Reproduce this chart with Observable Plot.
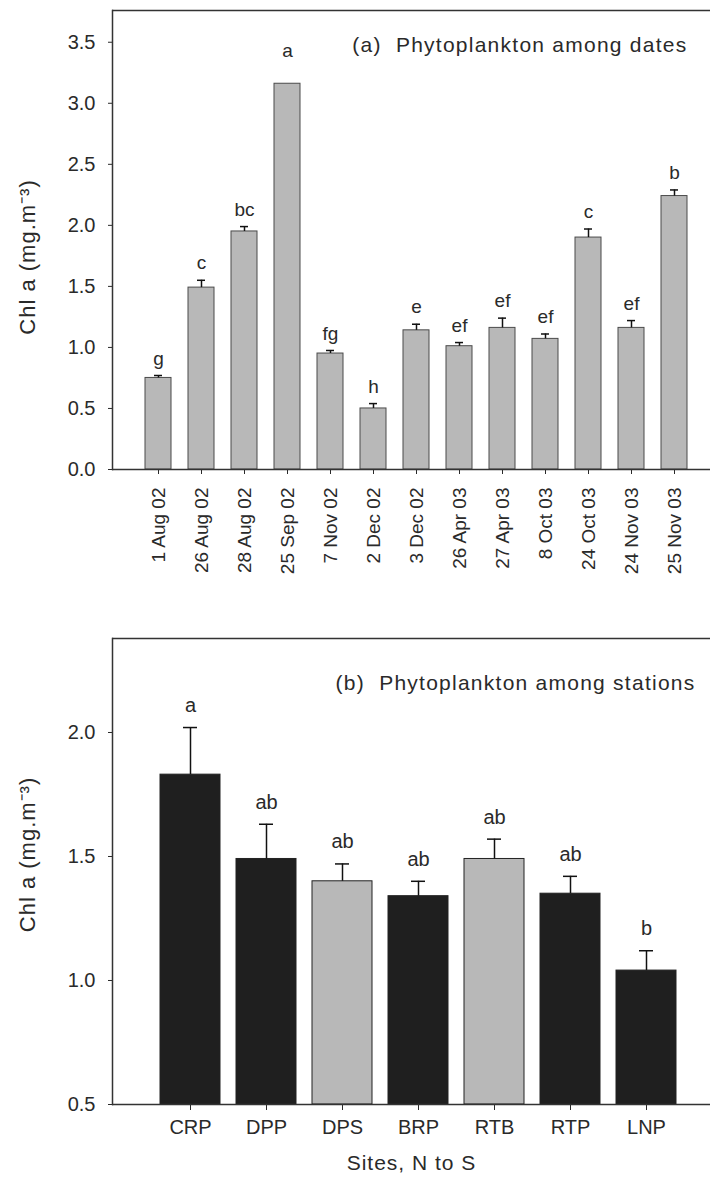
<!DOCTYPE html>
<html><head><meta charset="utf-8">
<script src="https://cdn.jsdelivr.net/npm/d3@7"></script>
<script src="https://cdn.jsdelivr.net/npm/@observablehq/plot@0.6"></script>
<style>
html,body{margin:0;padding:0;background:#fff;}
#wrap{width:710px;height:1178px;overflow:hidden;position:relative;background:#fff;}
#wrap svg{display:block;}
</style></head><body><div id="wrap"></div>
<script>
// Panel (a): phytoplankton Chl a among sampling dates
const datesA = ["1 Aug 02","26 Aug 02","28 Aug 02","25 Sep 02","7 Nov 02","2 Dec 02","3 Dec 02","26 Apr 03","27 Apr 03","8 Oct 03","24 Oct 03","24 Nov 03","25 Nov 03"];
const meanA = [0.75, 1.49, 1.95, 3.16, 0.95, 0.50, 1.14, 1.01, 1.16, 1.07, 1.90, 1.16, 2.24];
const semA = [0.02, 0.06, 0.04, null, 0.025, 0.04, 0.05, 0.03, 0.08, 0.04, 0.07, 0.06, 0.05];
const lettersA = ["g","c","bc","a","fg","h","e","ef","ef","ef","c","ef","b"];
const yTicksA = [0, 0.5, 1.0, 1.5, 2.0, 2.5, 3.0, 3.5];
const titleA = "(a)  Phytoplankton among dates";

// Panel (b): phytoplankton Chl a among stations
const sitesB = ["CRP","DPP","DPS","BRP","RTB","RTP","LNP"];
const meanB = [1.83, 1.49, 1.40, 1.34, 1.49, 1.35, 1.04];
const semB = [0.19, 0.14, 0.07, 0.06, 0.08, 0.07, 0.08];
const lettersB = ["a","ab","ab","ab","ab","ab","b"];
const groupB = ["I","I","II","I","II","I","I"];
const yTicksB = [0.5, 1.0, 1.5, 2.0];
const titleB = "(b)  Phytoplankton among stations";
const xLabelB = "Sites, N to S";
const yLabel = "Chl a (mg.m\u207B\u00B3)";

const font = "'Liberation Sans', Arial, sans-serif";
const ink = "#2a2a2a";

const dataA = datesA.map((d, i) => ({date: d, mean: meanA[i], sem: semA[i], letter: lettersA[i]}));
const errA = dataA.filter(d => d.sem != null);
const noErrA = dataA.filter(d => d.sem == null);
const dataB = sitesB.map((d, i) => ({site: d, mean: meanB[i], sem: semB[i], letter: lettersB[i], group: groupB[i]}));

const yMaxA = 3.76, yMaxB = 2.379;

const plotA = Plot.plot({
  width: 710, height: 600,
  marginLeft: 112, marginRight: 0, marginTop: 10, marginBottom: 131,
  style: {fontFamily: font, fontSize: "20px", color: ink, background: "#fff"},
  x: {domain: datesA, range: [112, 720], paddingInner: 0.39, paddingOuter: 0.735, label: null},
  y: {domain: [0, yMaxA], label: null},
  marks: [
    Plot.barY(dataA, {x: "date", y: "mean", fill: "#b8b8b8", stroke: "#4a4a4a", strokeWidth: 1}),
    Plot.ruleX(errA, {x: "date", y1: "mean", y2: d => d.mean + d.sem, stroke: "#111", strokeWidth: 1.5}),
    Plot.tickY(errA, {x: "date", y: d => d.mean + d.sem, insetLeft: 9, insetRight: 9, stroke: "#111", strokeWidth: 1.5}),
    Plot.text(errA, {x: "date", y: d => d.mean + d.sem, text: "letter", dy: -17, lineAnchor: "middle", fontSize: 19, fill: ink}),
    Plot.text(noErrA, {x: "date", y: "mean", text: "letter", dy: -33, lineAnchor: "middle", fontSize: 19, fill: ink}),
    Plot.axisY({ticks: yTicksA, tickFormat: d3.format(".1f"), tickSize: 4, tickPadding: 13, fontSize: 20, label: null}),
    Plot.axisX({tickRotate: -90, tickSize: 5, tickPadding: 13, fontSize: 19, label: null}),
    Plot.ruleY([0], {stroke: "#333", strokeWidth: 1.5}),
    Plot.ruleY([yMaxA], {stroke: "#333", strokeWidth: 1.5}),
    Plot.frame({anchor: "left", stroke: "#333", strokeWidth: 1.5}),
    Plot.text([titleA], {frameAnchor: "top-right", dx: -23, dy: 35, lineAnchor: "middle", fontSize: 21, fill: ink}),
    Plot.text([yLabel], {frameAnchor: "left", rotate: -90, dx: -85, dy: 17, textAnchor: "middle", lineAnchor: "middle", fontSize: 22, fill: ink})
  ]
});

const plotB = Plot.plot({
  width: 710, height: 578,
  marginLeft: 112, marginRight: 0, marginTop: 38, marginBottom: 74,
  style: {fontFamily: font, fontSize: "20px", color: ink, background: "#fff"},
  x: {domain: sitesB, range: [112, 724], paddingInner: 0.21, paddingOuter: 0.63, label: null},
  y: {domain: [0.5, yMaxB], label: null},
  color: {domain: ["I", "II"], range: ["#1f1f1f", "#b8b8b8"]},
  marks: [
    Plot.barY(dataB, {x: "site", y1: 0.5, y2: "mean", fill: "group", stroke: "#222", strokeWidth: 1}),
    Plot.ruleX(dataB, {x: "site", y1: "mean", y2: d => d.mean + d.sem, stroke: "#111", strokeWidth: 1.5}),
    Plot.tickY(dataB, {x: "site", y: d => d.mean + d.sem, insetLeft: 23, insetRight: 23, stroke: "#111", strokeWidth: 1.5}),
    Plot.text(dataB, {x: "site", y: d => d.mean + d.sem, text: "letter", dy: -22, lineAnchor: "middle", fontSize: 20, fill: ink}),
    Plot.axisY({ticks: yTicksB, tickFormat: d3.format(".1f"), tickSize: 4, tickPadding: 13, fontSize: 20, label: null}),
    Plot.axisX({tickSize: 6, tickPadding: 9, fontSize: 20, label: null}),
    Plot.ruleY([0.5], {stroke: "#333", strokeWidth: 1.5}),
    Plot.ruleY([yMaxB], {stroke: "#333", strokeWidth: 1.5}),
    Plot.frame({anchor: "left", stroke: "#333", strokeWidth: 1.5}),
    Plot.text([titleB], {frameAnchor: "top-right", dx: -15, dy: 45, lineAnchor: "middle", fontSize: 21, fill: ink}),
    Plot.text([yLabel], {frameAnchor: "left", rotate: -90, dx: -85, dy: -17, textAnchor: "middle", lineAnchor: "middle", fontSize: 22, fill: ink}),
    Plot.text([xLabelB], {frameAnchor: "bottom", dy: 59, lineAnchor: "middle", fontSize: 21, fill: ink})
  ]
});

// widen the lettering of the titles and axis labels, as in the scanned original
for (const svg of [plotA, plotB]) {
  d3.select(svg).selectAll("text").each(function () {
    const t = this.textContent;
    if (t === titleA || t === titleB) this.setAttribute("letter-spacing", "1.25");
    else if (t === yLabel || t === xLabelB) this.setAttribute("letter-spacing", "1");
  });
}

const wrap = document.getElementById("wrap");
wrap.appendChild(plotA);
wrap.appendChild(plotB);
</script></body></html>
